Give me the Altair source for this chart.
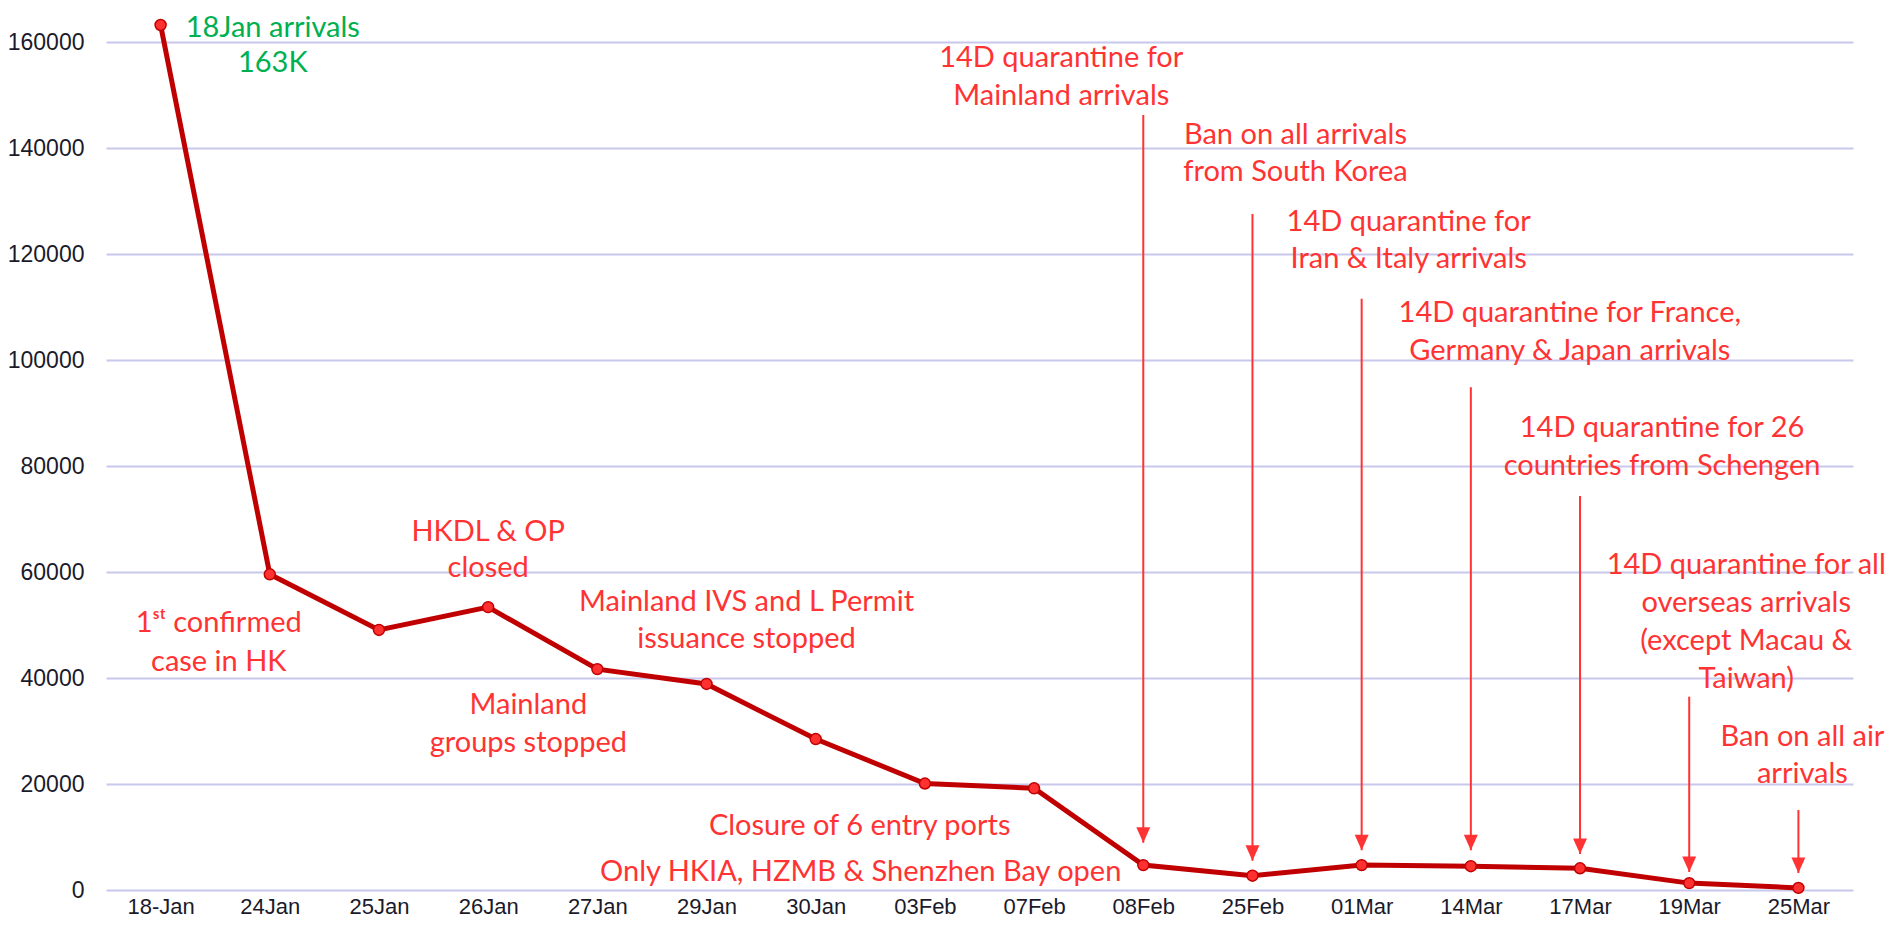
import altair as alt
import pandas as pd

# ---------------- data ----------------
categories = ["18-Jan", "24Jan", "25Jan", "26Jan", "27Jan", "29Jan", "30Jan", "03Feb",
              "07Feb", "08Feb", "25Feb", "01Mar", "14Mar", "17Mar", "19Mar", "25Mar"]
arrivals = [163300, 59600, 49100, 53400, 41700, 38900, 28500, 20100,
            19200, 4700, 2700, 4700, 4500, 4100, 1300, 400]

y_ticks = [0, 20000, 40000, 60000, 80000, 100000, 120000, 140000, 160000]

arrow_cats = ["08Feb", "25Feb", "01Mar", "14Mar", "17Mar", "19Mar", "25Mar"]
arrow_top = [146300, 127600, 111600, 94900, 74400, 36500, 15100]
arrow_tip = [8900, 5500, 7500, 7500, 6800, 3400, 3200]

note_cats = ["24Jan", "24Jan", "26Jan", "27Jan", "29Jan", "30Jan", "30Jan", "08Feb",
             "25Feb", "01Mar", "14Mar", "17Mar", "19Mar", "25Mar"]
note_vals = [162700, 50500, 67600, 34900, 54400, 12100, 3400, 157100,
             142500, 126100, 108900, 87200, 61400, 28900]
note_texts = [
    "18Jan arrivals\n163K",
    "1\u02e2\u1d57 confirmed\ncase in HK",
    "HKDL & OP\nclosed",
    "Mainland\ngroups stopped",
    "Mainland IVS and L Permit\nissuance stopped",
    "Closure of 6 entry ports",
    "Only HKIA, HZMB & Shenzhen Bay open",
    "14D quarantine for\nMainland arrivals",
    "Ban on all arrivals\nfrom South Korea",
    "14D quarantine for\nIran & Italy arrivals",
    "14D quarantine for France,\nGermany & Japan arrivals",
    "14D quarantine for 26\ncountries from Schengen",
    "14D quarantine for all\noverseas arrivals\n(except Macau &\nTaiwan)",
    "Ban on all air\narrivals",
]
note_is_green = [True] + [False] * 13

# ---------------- styles ----------------
note_dx = [3, -51, 0, -69, 40, 44, 45, -82, 43, 47, 99, 82, 57, 4]
note_lh = [35, 39, 36, 38, 37, 37, 37, 38, 37, 37, 38, 38, 38, 37]
RED_TEXT = "#FF3333"
GREEN_TEXT = "#00B050"
LINE_COLOR = "#C00000"
FONT = "Lato"

x_scale = alt.Scale(domain=categories, type="point", padding=0.5)
y_scale = alt.Scale(domain=[0, 165000], nice=False, zero=True)

main_df = pd.DataFrame({"cat": categories, "val": arrivals})

x_enc = alt.X("cat:N", scale=x_scale, sort=categories,
              axis=alt.Axis(title=None, labelAngle=0, labelFont="Liberation Sans",
                            labelFontSize=22, labelColor="#1a1a2a", ticks=False,
                            domain=False, labelPadding=6, grid=False))
y_enc = alt.Y("val:Q", scale=y_scale,
              axis=alt.Axis(title=None, values=y_ticks, format="d",
                            labelFont="Liberation Sans", labelFontSize=23,
                            labelColor="#1a1a2a", ticks=False, domain=False,
                            labelPadding=22, grid=True, gridColor="#C8C8EC",
                            gridWidth=2))

line = alt.Chart(main_df).mark_line(color=LINE_COLOR, strokeWidth=5).encode(x=x_enc, y=y_enc)
pts = alt.Chart(main_df).mark_point(filled=True, size=120, fill="#FF3030", stroke=LINE_COLOR,
                                    strokeWidth=1.5, opacity=1).encode(
    x=alt.X("cat:N", scale=x_scale, sort=categories),
    y=alt.Y("val:Q", scale=y_scale))

arrow_df = pd.DataFrame({"cat": arrow_cats, "top": arrow_top, "tip": arrow_tip})
rules = alt.Chart(arrow_df).mark_rule(color=RED_TEXT, strokeWidth=2).encode(
    x=alt.X("cat:N", scale=x_scale, sort=categories),
    y=alt.Y("top:Q", scale=y_scale),
    y2="tip:Q")
heads = alt.Chart(arrow_df).mark_point(
    shape="M-0.45,-1 L0.45,-1 L0,0 Z", filled=True, size=960, color=RED_TEXT, opacity=1
).encode(
    x=alt.X("cat:N", scale=x_scale, sort=categories),
    y=alt.Y("tip:Q", scale=y_scale))

layers = [line, rules, heads, pts]
for i in range(len(note_texts)):
    df = pd.DataFrame({"cat": [note_cats[i]], "val": [note_vals[i]], "txt": [note_texts[i]]})
    t = alt.Chart(df).mark_text(
        font=FONT, fontSize=29, lineHeight=note_lh[i], lineBreak="\n",
        align="center", baseline="middle", dx=note_dx[i],
        color=GREEN_TEXT if note_is_green[i] else RED_TEXT
    ).encode(
        x=alt.X("cat:N", scale=x_scale, sort=categories),
        y=alt.Y("val:Q", scale=y_scale),
        text="txt:N")
    layers.append(t)

chart = alt.layer(*layers).properties(
    width=1747, height=874,
    autosize=alt.AutoSizeParams(type="none"),
    padding={"left": 98, "top": 8, "right": 34, "bottom": 31},
    background="white",
).configure_view(stroke=None)

chart.save("out.html", embed_options={"renderer": "svg", "actions": False})
